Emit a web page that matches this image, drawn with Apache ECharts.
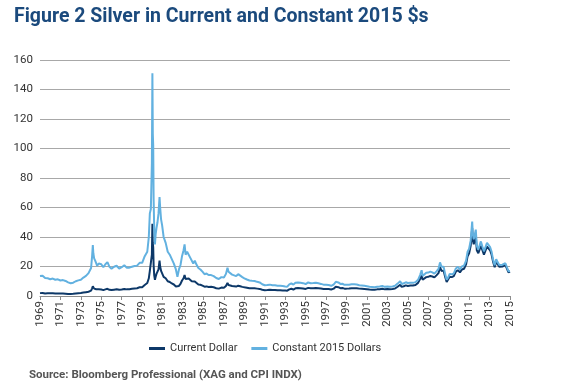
<!DOCTYPE html>
<html>
<head>
<meta charset="utf-8">
<script src="https://cdn.jsdelivr.net/npm/echarts@6/dist/echarts.min.js"></script>
<style>html,body{margin:0;padding:0;background:#fff;}#c{width:563px;height:385px;}</style>
</head>
<body>
<div id="c"></div>
<script>
// Decimal years of observations
const years = [
1969.0,1969.25,1969.5,1969.75,1970.0,1970.25,1970.5,1970.75,1971.0,1971.25,1971.5,1971.75,
1972.0,1972.25,1972.5,1972.75,1973.0,1973.25,1973.5,1973.75,1974.0,1974.1,1974.17,1974.22,
1974.3,1974.4,1974.5,1974.6,1974.75,1974.9,1975.0,1975.2,1975.4,1975.6,1975.8,1976.0,
1976.25,1976.5,1976.75,1977.0,1977.25,1977.5,1977.75,1978.0,1978.25,1978.5,1978.75,1979.0,
1979.25,1979.5,1979.65,1979.75,1979.85,1979.95,1980.0,1980.04,1980.08,1980.12,1980.18,1980.25,
1980.32,1980.4,1980.5,1980.6,1980.7,1980.76,1980.85,1980.95,1981.1,1981.3,1981.5,1981.7,
1981.9,1982.1,1982.3,1982.45,1982.6,1982.75,1982.9,1983.05,1983.15,1983.25,1983.4,1983.55,
1983.7,1983.85,1984.0,1984.15,1984.3,1984.5,1984.7,1984.9,1985.1,1985.3,1985.5,1985.75,
1986.0,1986.25,1986.5,1986.75,1987.0,1987.2,1987.35,1987.45,1987.6,1987.8,1988.0,1988.2,
1988.4,1988.6,1988.8,1989.0,1989.25,1989.5,1989.75,1990.0,1990.25,1990.5,1990.75,1991.0,
1991.25,1991.5,1991.75,1992.0,1992.25,1992.5,1992.75,1993.0,1993.2,1993.4,1993.6,1993.8,
1994.0,1994.25,1994.5,1994.75,1995.0,1995.25,1995.5,1995.75,1996.0,1996.25,1996.5,1996.75,
1997.0,1997.25,1997.5,1997.75,1997.95,1998.08,1998.2,1998.4,1998.6,1998.8,1999.0,1999.25,
1999.5,1999.75,2000.0,2000.25,2000.5,2000.75,2001.0,2001.25,2001.5,2001.75,2002.0,2002.25,
2002.5,2002.75,2003.0,2003.25,2003.5,2003.75,2004.0,2004.25,2004.4,2004.6,2004.8,2005.0,
2005.25,2005.5,2005.75,2006.0,2006.2,2006.35,2006.45,2006.6,2006.8,2007.0,2007.2,2007.4,
2007.6,2007.8,2008.0,2008.15,2008.3,2008.5,2008.65,2008.8,2008.95,2009.1,2009.3,2009.5,
2009.7,2009.9,2010.1,2010.3,2010.5,2010.7,2010.85,2011.0,2011.15,2011.3,2011.36,2011.45,
2011.55,2011.65,2011.75,2011.9,2012.0,2012.15,2012.3,2012.45,2012.6,2012.75,2012.9,2013.05,
2013.2,2013.35,2013.5,2013.65,2013.8,2013.95,2014.1,2014.25,2014.4,2014.55,2014.7,2014.85,
2014.95,2015.0
];
// Silver price, current dollars
const currentDollar = [
1.95,2.1,1.75,1.85,1.8,1.85,1.75,1.75,1.65,1.7,1.6,1.4,
1.4,1.5,1.7,1.9,2.0,2.3,2.6,2.9,3.6,5.2,6.6,5.6,
5.0,4.8,4.6,4.1,4.5,4.6,4.4,4.0,4.5,4.9,4.2,4.0,
4.3,4.6,4.2,4.4,4.8,4.5,4.6,4.9,5.1,5.3,5.9,6.0,
7.5,8.8,12,17,18,28,49,36,33,21,14,11,
13,15,16,18,24,20,17,16,13,12,10,9.5,
8.5,7.8,6.5,5.2,6.8,8.2,10.5,12,14.2,11.5,12.5,11.8,
10.5,10,9.2,9.8,8.8,7.8,7.6,7.0,6.3,6.5,6.1,6.2,
5.9,5.3,5.0,5.7,5.6,6.8,8.9,7.5,7.5,6.8,6.6,6.4,
7.0,6.6,6.2,5.9,5.6,5.2,5.2,5.2,5.0,4.8,4.2,3.9,
4.0,4.2,4.0,4.1,3.9,3.9,3.8,3.7,3.6,4.5,4.9,4.4,
5.2,5.4,5.3,5.1,4.8,5.5,5.2,5.3,5.5,5.3,5.1,4.8,
4.8,4.7,4.4,5.0,6.2,7.0,6.0,5.3,5.4,5.0,5.0,5.1,
5.3,5.3,5.3,5.0,4.9,4.8,4.6,4.4,4.3,4.2,4.5,4.6,
4.9,4.5,4.7,4.6,4.8,5.1,6.3,7.6,6.2,6.6,7.2,6.8,
7.1,7.1,7.5,8.9,11.5,14.0,11.0,12.0,12.8,13.0,13.6,13.2,
12.6,14.0,15.5,19.5,17.0,17.2,13.0,9.5,10.8,13.0,12.8,13.5,
16.5,17.5,16.0,18.0,18.5,21.5,27,29,34,46,38,35,
38,41,31,29,30,34,31,28,27.5,33.5,32.5,31,
28,23,19.5,23.5,21.5,19.8,21,20,19.5,21,18.5,16,
15.8,16.5
];
// Silver price, constant 2015 dollars
const constant2015 = [
13.5,13.8,12.2,12.0,11.4,11.8,11.0,11.3,10.5,10.8,10.2,9.2,
8.6,9.0,10.0,10.6,11.0,12.5,13.6,15.5,19.0,27,34.5,29,
25.5,24,23,20.5,22,22.5,21.5,19.5,21.5,23.0,19.8,18.5,
19.8,20.5,18.6,19.5,20.8,19.2,19.2,19.8,20.3,20.6,22.5,22.5,
27,30,40,56,59,90,151,110,102,66,45,35,
42,46,50,56,67,60,52,48,40,36,30,28,
25,22,18,13,18,21,27,31,35,28,30,29,
26,25,22,24,21.5,19,18,16.5,14.8,15.2,14.2,14.2,
13.5,12.2,11.5,12.8,12.5,15,19.2,16.5,16.2,14.5,14,13.5,
14.8,13.8,12.8,12.0,11.2,10.5,10.3,10.2,9.6,9.2,8.0,7.3,
7.4,7.7,7.3,7.3,7.0,7.0,6.8,6.5,6.3,7.9,8.6,7.7,
9.0,9.2,9.0,8.7,8.1,9.2,8.7,8.8,9.0,8.6,8.2,7.7,
7.6,7.4,6.9,7.8,9.6,10.8,9.2,8.2,8.3,7.6,7.6,7.7,
8.0,7.9,7.8,7.3,7.1,6.9,6.6,6.3,6.1,5.9,6.3,6.4,
6.8,6.2,6.4,6.3,6.5,6.9,8.4,10.0,8.1,8.6,9.3,8.8,
9.0,8.9,9.4,11.0,14.2,17.5,13.6,14.8,15.7,15.9,16.5,16.0,
15.2,16.7,18.3,22.8,19.8,19.8,15.0,11.0,12.6,15.0,14.7,15.4,
18.7,19.8,18.0,20.1,20.6,23.9,30,32,37.5,50.5,42,38.5,
41.5,45,34,31.5,32.5,37,33.5,30.3,29.5,36,34.8,33.2,
29.9,24.5,20.8,25,22.8,21,22.3,21.2,20.6,22.2,19.5,16.8,
16.5,17
];
const baseYear = 1969;
const endYear = 2015;
const yTicks = [0, 20, 40, 60, 80, 100, 120, 140, 160];
const seriesNames = ['Current Dollar', 'Constant 2015 Dollars'];

const toPairs = arr => years.map((y, i) => [y - baseYear, arr[i]]);

const chart = echarts.init(document.getElementById('c'), null, {renderer: 'canvas'});
chart.setOption({
  animation: false,
  backgroundColor: '#ffffff',
  textStyle: {fontFamily: 'Roboto, "Liberation Sans", sans-serif'},
  title: [
    {
      text: 'Figure 2 Silver in Current and Constant 2015 $s',
      left: 9, top: 2,
      textStyle: {fontSize: 19.5, fontWeight: 'bold', color: '#1b4a7d', fontFamily: 'Roboto, "Liberation Sans", sans-serif'}
    },
    {
      text: 'Source: Bloomberg Professional (XAG and CPI INDX)',
      left: 24, top: 364,
      textStyle: {fontSize: 11.5, fontWeight: 'bold', color: '#555555', fontFamily: 'Roboto, "Liberation Sans", sans-serif'}
    }
  ],
  legend: {
    data: seriesNames,
    left: 144, top: 338,
    icon: 'rect',
    itemWidth: 16, itemHeight: 3,
    itemGap: 14,
    textStyle: {fontSize: 11, color: '#333333'}
  },
  grid: {left: 40, right: 53, top: 60, bottom: 89, containLabel: false},
  xAxis: {
    type: 'value',
    min: 0, max: endYear - baseYear, interval: 2,
    axisLine: {lineStyle: {color: '#8c8c8c', width: 1}},
    axisTick: {show: true, length: 4, lineStyle: {color: '#8c8c8c'}},
    splitLine: {show: false},
    axisLabel: {
      rotate: 90, fontSize: 11.5, color: '#333333', margin: 5,
      formatter: v => String(v + baseYear)
    }
  },
  yAxis: {
    type: 'value',
    min: yTicks[0], max: yTicks[yTicks.length - 1], interval: 20,
    axisLine: {show: false},
    axisTick: {show: false},
    splitLine: {lineStyle: {color: '#a8a8a8', width: 1.2}},
    axisLabel: {fontSize: 11.5, color: '#333333', margin: 7}
  },
  series: [
    {
      name: seriesNames[0], type: 'line', data: toPairs(currentDollar),
      symbol: 'none', lineStyle: {color: '#0d3868', width: 2}, itemStyle: {color: '#0d3868'}
    },
    {
      name: seriesNames[1], type: 'line', data: toPairs(constant2015),
      symbol: 'none', lineStyle: {color: '#62b1e0', width: 2}, itemStyle: {color: '#62b1e0'}
    }
  ]
});
</script>
</body>
</html>
